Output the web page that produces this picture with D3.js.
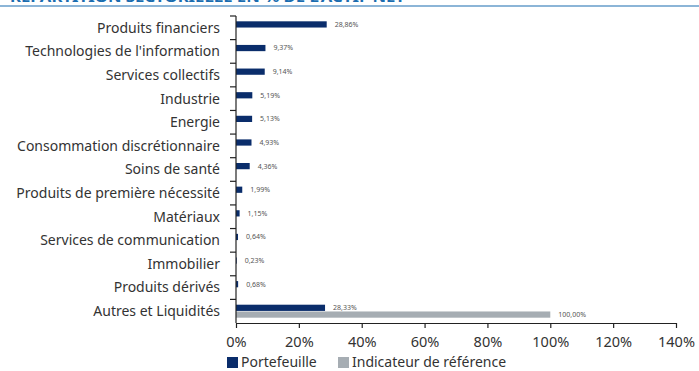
<!DOCTYPE html>
<html>
<head>
<meta charset="utf-8">
<script src="https://cdn.jsdelivr.net/npm/d3@7"></script>
<style>
  html, body { margin: 0; padding: 0; background: #fff; }
  svg { display: block; }
</style>
</head>
<body>
<script>
const categories = [
  "Produits financiers",
  "Technologies de l'information",
  "Services collectifs",
  "Industrie",
  "Energie",
  "Consommation discrétionnaire",
  "Soins de santé",
  "Produits de première nécessité",
  "Matériaux",
  "Services de communication",
  "Immobilier",
  "Produits dérivés",
  "Autres et Liquidités"
];
const portefeuille = [28.86, 9.37, 9.14, 5.19, 5.13, 4.93, 4.36, 1.99, 1.15, 0.64, 0.23, 0.68, 28.33];
const indicateur   = [null, null, null, null, null, null, null, null, null, null, null, null, 100.00];
const seriesNames = ["Portefeuille", "Indicateur de référence"];
const seriesColors = ["#0a2d6b", "#a6adb3"];
const xTicks = [0, 20, 40, 60, 80, 100, 120, 140];
const title = "RÉPARTITION SECTORIELLE EN % DE L'ACTIF NET";

const W = 699, H = 371;
const svg = d3.select("body").append("svg").attr("width", W).attr("height", H);
const font = "'Noto Sans', 'Open Sans', sans-serif";

// title (clipped at top, as in the reference) and rule
svg.append("text").attr("x", 10).attr("y", 1.8)
  .attr("font-family", font).attr("font-weight", "bold").attr("font-size", 14)
  .attr("fill", "#1b6db0").attr("textLength", 395).attr("lengthAdjust", "spacingAndGlyphs")
  .text(title);
svg.append("line").attr("x1", 0).attr("x2", W).attr("y1", 6).attr("y2", 6)
  .attr("stroke", "#1b6db0").attr("stroke-width", 1.2);

const x = d3.scaleLinear().domain([0, 140]).range([236, 676]);
const y = d3.scaleBand().domain(categories).range([16, 323]).paddingInner(0.45).paddingOuter(0.225);
const ySub = d3.scaleBand().domain(seriesNames).range([0, y.bandwidth()]).paddingInner(0.08);
const yStep = d3.scaleBand().domain(categories).range([16, 323]);

const data = categories.map((c, i) => ({c, vals: [portefeuille[i], indicateur[i]]}));

// bars
const g = svg.append("g");
data.forEach(d => {
  d.vals.forEach((v, k) => {
    if (v == null) return;
    const yy = y(d.c) + ySub(seriesNames[k]);
    g.append("rect").attr("x", x(0)).attr("y", yy)
      .attr("width", x(v) - x(0)).attr("height", ySub.bandwidth())
      .attr("fill", seriesColors[k]);
    g.append("text").attr("x", x(v) + 8).attr("y", yy + ySub.bandwidth() / 2)
      .attr("dy", "0.35em").attr("font-family", font).attr("font-size", 7)
      .attr("fill", "#555").text(d3.format(".2f")(v).replace(".", ",") + "%");
  });
});

// y axis (ticks at band boundaries)
const yAxisG = svg.append("g");
yAxisG.append("line").attr("x1", 236).attr("x2", 236).attr("y1", 16).attr("y2", 323)
  .attr("stroke", "#222").attr("stroke-width", 1.2);
categories.forEach(c => {
  const yy = yStep(c);
  yAxisG.append("line").attr("x1", 230).attr("x2", 236).attr("y1", yy).attr("y2", yy)
    .attr("stroke", "#222").attr("stroke-width", 1.2);
  yAxisG.append("text").attr("x", 220).attr("y", yy + yStep.bandwidth() / 2)
    .attr("dy", "0.35em").attr("text-anchor", "end")
    .attr("font-family", font).attr("font-size", 14).attr("fill", "#333").text(c);
});

// x axis
const xAxis = d3.axisBottom(x).tickValues(xTicks).tickFormat(d => d + "%").tickSize(5).tickSizeOuter(0);
const xg = svg.append("g").attr("transform", "translate(0,323)").call(xAxis);
xg.select(".domain").attr("stroke", "#222").attr("stroke-width", 1.2);
xg.selectAll(".tick line").attr("stroke", "#222").attr("stroke-width", 1.2);
xg.selectAll(".tick text").attr("font-family", font).attr("font-size", 14.5)
  .attr("fill", "#333").attr("dy", "0").attr("y", 24);

// legend
const legend = svg.append("g");
const legX = [227, 338];
seriesNames.forEach((s, k) => {
  legend.append("rect").attr("x", legX[k]).attr("y", 357).attr("width", 11).attr("height", 11)
    .attr("fill", seriesColors[k]);
  legend.append("text").attr("x", legX[k] + 14).attr("y", 367)
    .attr("font-family", font).attr("font-size", 14).attr("fill", "#333").text(s);
});
</script>
</body>
</html>
